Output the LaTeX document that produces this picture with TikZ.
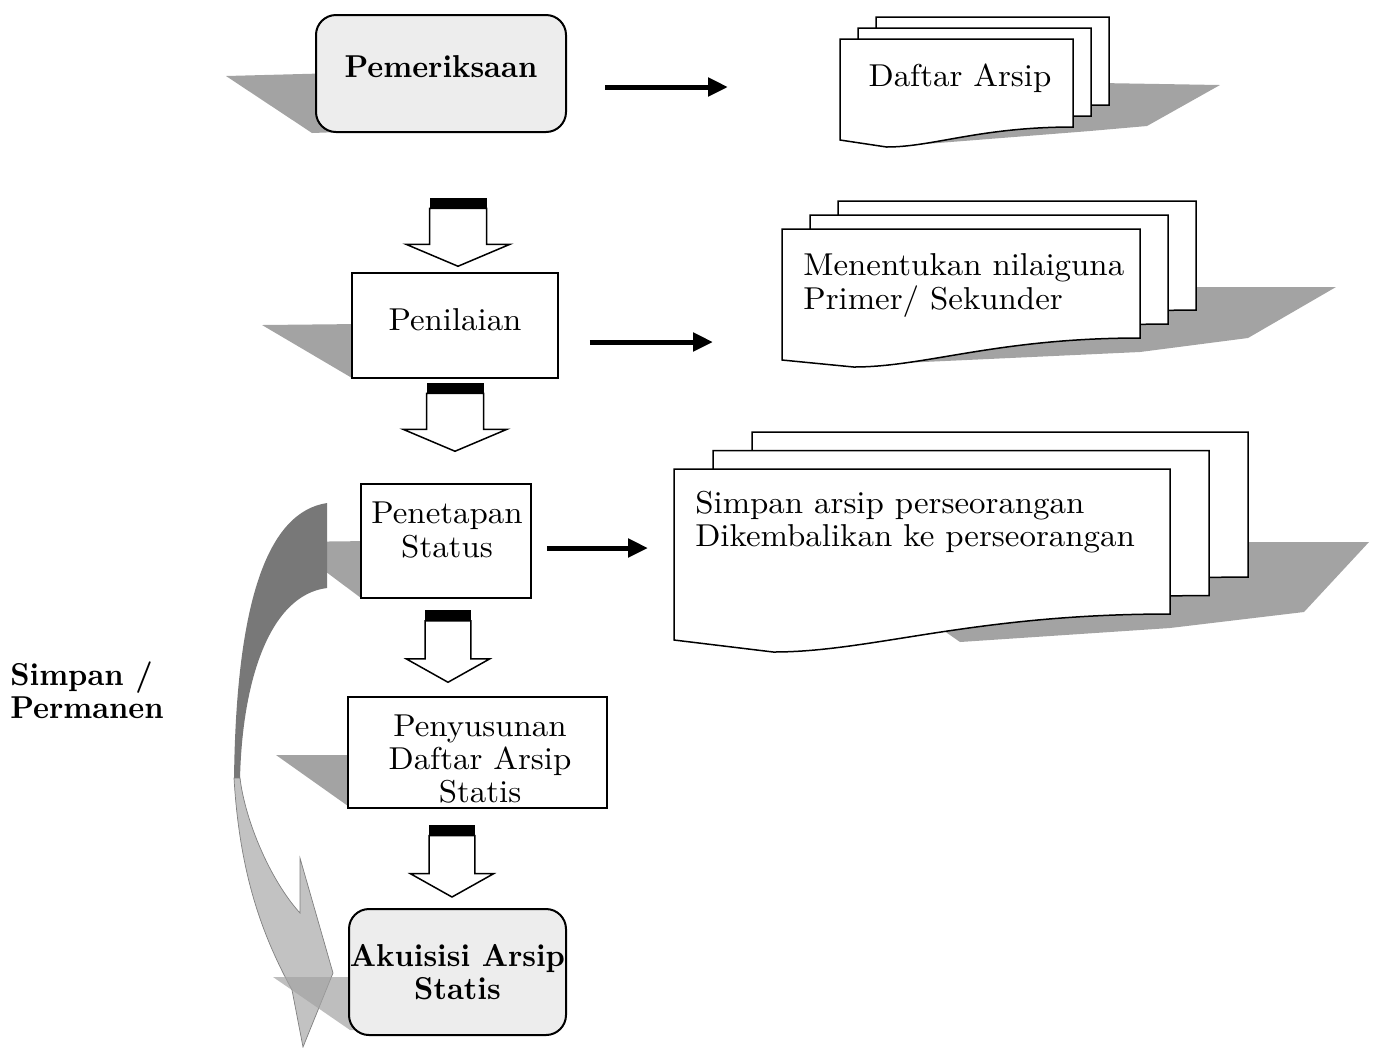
\documentclass[tikz,border=0pt]{standalone}
\usepackage{fontspec}
\setmainfont{lmroman10-regular.otf}[BoldFont=lmroman10-bold.otf, FakeStretch=1.04, BoldFeatures={FakeStretch=0.955}]
\usepackage{tikz}
\usetikzlibrary{
    arrows.meta,  % arrow tips
    positioning,  % relative placement
}
\definecolor{boxgray}{gray}{0.93}
\definecolor{shadegray}{gray}{0.64}
\definecolor{ribbondark}{gray}{0.47}
\definecolor{ribbonlight}{gray}{0.76}

% one paper sheet with a wavy bottom: left, top, right, bottom left, bottom right, dip
\newcommand{\docsheet}[6]{%
    \pgfmathsetmacro\wa{#1+0.2*(#3-(#1))}
    \pgfmathsetmacro\wb{#1+0.4*(#3-(#1))}
    \pgfmathsetmacro\wc{#1+0.6*(#3-(#1))}
    \draw[sheet] (#1,#2) -- (#3,#2) -- (#3,#5) .. controls (\wc,#5) and (\wb,#4+#6) .. (\wa,#4+#6) -- (#1,#4) -- cycle;
}

\tikzset{
    every node/.style={font=\fontsize{18}{19}\selectfont},
    bold/.style={font=\fontsize{18}{19}\selectfont\bfseries},
    box/.style={draw, line width=0.3mm, fill=white, inner sep=0pt},
    rbox/.style={box, rounded corners=4mm, fill=boxgray, line width=0.4mm},
    sheet/.style={draw, line width=0.3mm, fill=white},
    shade/.style={fill=shadegray},
    flow/.style={line width=1mm, -{Triangle[length=4mm, width=3.6mm]}},
    hollowdown/.pic={
        \fill (-28.5,-68) rectangle (28.5,-58);
        \draw[line width=0.3mm, fill=white] (-28.5,-58) -- (-28.5,-22) -- (-52,-22) -- (0,0)
            -- (52,-22) -- (28.5,-22) -- (28.5,-58) -- cycle;
    },
}

\begin{document}
\begin{tikzpicture}[x=0.2mm, y=-0.2mm]
    \useasboundingbox (0,0) rectangle (1380,1047);

    % shadows
    \fill[shade] (226,76) -- (340,73) -- (340,132) -- (312,133) -- cycle;
    \fill[shade] (262,325) -- (360,324) -- (360,378) -- (352,378) -- cycle;
    \fill[shade] (286,542) -- (370,541) -- (370,597) -- (361,598) -- cycle;
    \fill[shade] (276,755) -- (356,755) -- (356,806) -- (348,806) -- cycle;
    \fill[shade] (1100,83) -- (1220,85) -- (1147,126) -- (1090,131) -- (900,146) -- (880,120) -- cycle;
    \fill[shade] (1180,287) -- (1336,287) -- (1248,338) -- (1140,352) -- (880,364) -- (880,330) -- cycle;
    \fill[shade] (1230,542) -- (1369,542) -- (1304,612) -- (1170,628) -- (960,642) -- (900,600) -- cycle;

    % curved arrow on the left
    \fill[ribbondark] (327,503) .. controls (268,512) and (236,600) .. (234,780)
        -- (240,780) .. controls (242,680) and (270,595) .. (327,588) -- cycle;
    \filldraw[ribbonlight, draw=gray] (234,778) .. controls (240,880) and (265,940) .. (292,990)
        -- (303,1047) -- (333,973) -- (300,858) -- (300,913)
        .. controls (270,880) and (245,820) .. (240,778) -- cycle;
    \fill[shade, opacity=0.7] (273,977) -- (360,977) -- (360,1030) -- (350,1030) -- cycle;

    % document stacks
    \foreach \i in {2,1,0} {\docsheet{840+18*\i}{39-11*\i}{1073+18*\i}{140-11*\i}{127-11*\i}{7}}
    \foreach \i in {2,1,0} {\docsheet{782+28*\i}{229-14*\i}{1140+28*\i}{360-14*\i}{338-14*\i}{7}}
    \foreach \i in {2,1,0} {\docsheet{674+39*\i}{469-18.5*\i}{1170+39*\i}{640-18.5*\i}{614-18.5*\i}{12}}

    % the steps
    \node[rbox, minimum width=50mm, minimum height=23.4mm] (pem) at (441,73.5) {};
    \node[box, minimum width=41.2mm, minimum height=21mm] (pen) at (455,325.5) {};
    \node[box, minimum width=34mm, minimum height=22.8mm] (pent) at (446,541) {};
    \node[box, minimum width=51.8mm, minimum height=22.2mm] (peny) at (477.5,752.5) {};
    \node[rbox, minimum width=43.4mm, minimum height=25.2mm] (akui) at (457.5,972) {};

    \node[bold] (pemtext) at (441,67) {Pemeriksaan};
    \node (pentext) at (455,320) {Penilaian};
    \node[align=center] (penttext) at (447,530) {Penetapan\\Status};
    \node[align=center] (penytext) at (480,759) {Penyusunan\\Daftar Arsip\\Statis};
    \node[bold, align=center] (akuitext) at (457.5,972) {Akuisisi Arsip\\Statis};

    \node (daftar) at (960,78) {Daftar Arsip};
    \node[anchor=west, align=left, inner sep=0pt] (nilai) at (803,285.5) {Menentukan nilaiguna\\Primer/ Sekunder};
    \node[anchor=west, align=left, inner sep=0pt] (simpan) at (695,522) {Simpan arsip perseorangan\\Dikembalikan ke perseorangan};
    \node[bold, anchor=west, align=left, inner sep=0pt] (perm) at (10,690) {Simpan /\\Permanen};

    % arrows to the documents
    \coordinate (d1) at (840,87);
    \coordinate (d2) at (782,342);
    \coordinate (d3) at (674,548);
    \draw[flow, shorten <=7.6mm, shorten >=22.4mm] (pem.east |- d1) -- (d1);
    \draw[flow, shorten <=6.2mm, shorten >=13.8mm] (pen.east |- d2) -- (d2);
    \draw[flow, shorten <=3mm, shorten >=5.2mm] (pent.east |- d3) -- (d3);

    % block arrows down the column
    \pic at ([xshift=0.6mm, yshift=1.2mm]pen.north) {hollowdown};
    \pic at ([xshift=1.8mm, yshift=6.4mm]pent.north) {hollowdown};
    \pic[xscale=0.8, yscale=1.06] at ([xshift=-5.9mm, yshift=2.8mm]peny.north) {hollowdown};
    \pic[xscale=0.8, yscale=1.06] at ([xshift=-1.1mm, yshift=2.2mm]akui.north) {hollowdown};
\end{tikzpicture}
\end{document}
